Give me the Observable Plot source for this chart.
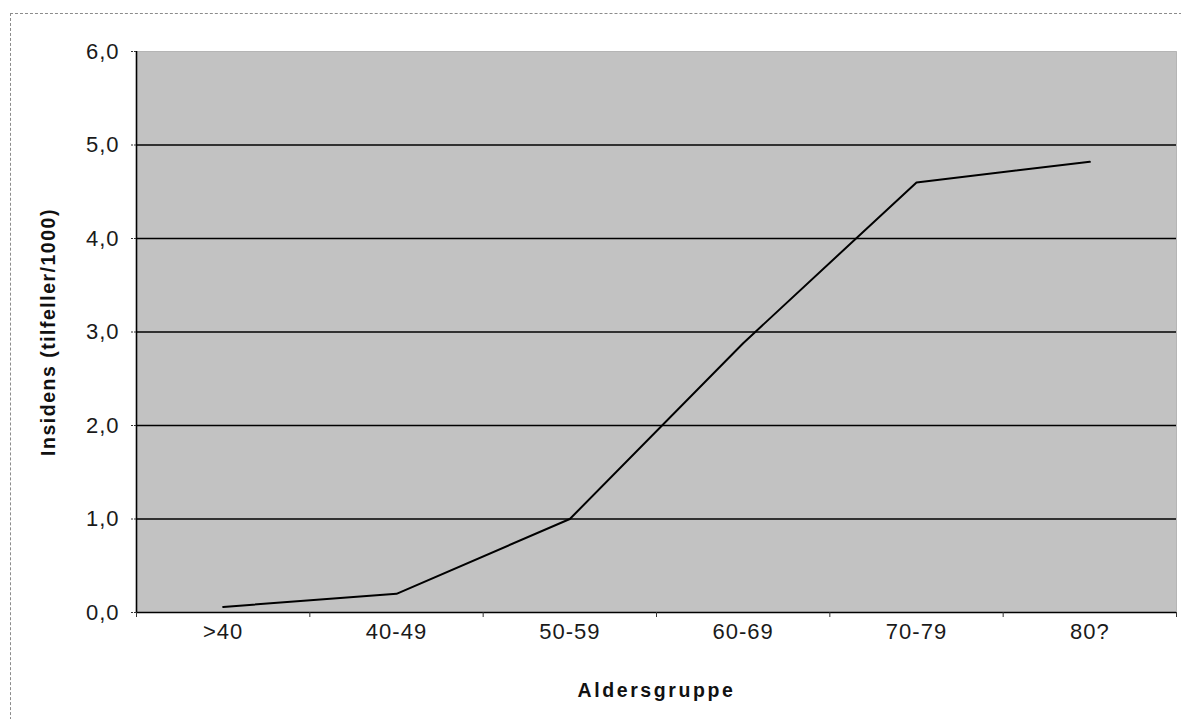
<!DOCTYPE html>
<html>
<head>
<meta charset="utf-8">
<script src="https://cdn.jsdelivr.net/npm/d3@7"></script>
<script src="https://cdn.jsdelivr.net/npm/@observablehq/plot@0.6"></script>
<style>
  html, body { margin: 0; padding: 0; background: #fff; }
  #wrap { position: relative; width: 1181px; height: 719px; overflow: hidden; }
  #border { position: absolute; left: 10px; top: 13px; width: 1200px; height: 760px;
            border: 1px dashed #8c8c8c; pointer-events: none; }
  #chart { position: absolute; left: 0; top: 0; }
  #chart svg { font-family: "Liberation Sans", Arial, sans-serif; }
  #chart g[aria-label$="tick label"] text { font-size: 22px !important; letter-spacing: 1px; fill: #1a1a1a; }
  #chart g[aria-label="y-axis label"] text, #chart g[aria-label="x-axis label"] text {
    font-weight: bold; font-size: 19.5px !important; letter-spacing: 1.5px; fill: #111; }
  #chart g[aria-label="x-axis label"] text { letter-spacing: 2.6px; }
</style>
</head>
<body>
<div id="wrap"><div id="border"></div><div id="chart"></div></div>
<script>
const categories = [">40", "40-49", "50-59", "60-69", "70-79", "80?"];
const incidence = [0.06, 0.2, 1.0, 2.88, 4.6, 4.82];
const yTicks = [0, 1, 2, 3, 4, 5, 6];
const gridValues = [1, 2, 3, 4, 5];
const xLabel = "Aldersgruppe";
const yLabel = "Insidens (tilfeller/1000)";

const data = categories.map((c, i) => ({i, category: c, value: incidence[i]}));
const xIdx = categories.map((c, i) => i);
const xDomain = [-0.5, categories.length - 0.5];
const boundaries = d3.range(xDomain[0], xDomain[1] + 0.01, 1);
const fmt = d => d.toFixed(1).replace(".", ",");

const plot = Plot.plot({
  width: 1181,
  height: 719,
  marginLeft: 136,
  marginRight: 5,
  marginTop: 51,
  marginBottom: 107,
  style: {fontFamily: "Liberation Sans, Arial, sans-serif", color: "#111", background: "transparent"},
  x: {type: "linear", domain: xDomain},
  y: {domain: [0, 6]},
  marks: [
    Plot.frame({fill: "#c2c2c2", stroke: "#8a8a8a", strokeDasharray: "1,1"}),
    Plot.ruleY(gridValues, {stroke: "#000", strokeWidth: 1.3}),
    Plot.ruleY([0], {stroke: "#000", strokeWidth: 1.6}),
    Plot.ruleX([xDomain[0]], {stroke: "#000", strokeWidth: 1.6}),
    Plot.axisY({ticks: yTicks, tickFormat: fmt, tickSize: 6, tickPadding: 11, stroke: "#333", strokeDasharray: "2,1",
      label: yLabel, labelAnchor: "center", labelOffset: 95, labelArrow: false}),
    Plot.axisX({ticks: boundaries, tickFormat: () => "", tickSize: 5, stroke: "#333", label: null}),
    Plot.axisX({ticks: xIdx, tickFormat: i => categories[i], tickSize: 0, tickPadding: 11,
      label: xLabel, labelAnchor: "center", labelOffset: 84, labelArrow: false}),
    Plot.line(data, {x: "i", y: "value", stroke: "#000", strokeWidth: 2})
  ]
});
document.getElementById("chart").appendChild(plot);
</script>
</body>
</html>
